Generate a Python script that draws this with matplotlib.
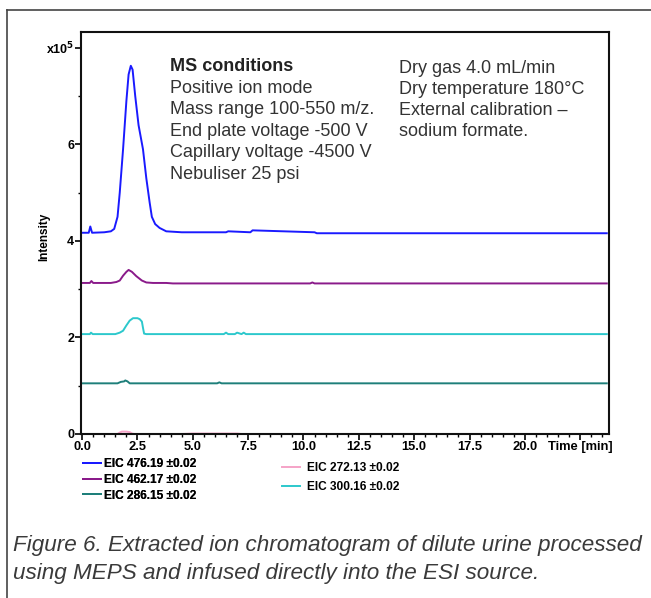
import matplotlib
matplotlib.use("Agg")
import matplotlib.pyplot as plt
from matplotlib.lines import Line2D

# retention time [min] / intensity [x10^5]
t_476 = [0.0, 0.3, 0.37, 0.45, 1.0, 1.3, 1.45, 1.6, 1.7, 1.85, 2.0, 2.1, 2.2, 2.28, 2.4,
         2.55, 2.75, 2.9, 3.05, 3.15, 3.3, 3.5, 3.8, 4.5, 6.5, 6.6, 7.6, 7.7, 10.5, 10.6, 23.7]
i_476 = [4.17, 4.17, 4.3, 4.17, 4.18, 4.2, 4.25, 4.5, 5.0, 5.9, 6.9, 7.45, 7.63, 7.55, 7.0,
         6.4, 5.9, 5.3, 4.8, 4.5, 4.35, 4.27, 4.2, 4.18, 4.18, 4.2, 4.18, 4.22, 4.18, 4.16, 4.16]

t_462 = [0.0, 0.35, 0.42, 0.5, 1.3, 1.55, 1.7, 1.85, 2.0, 2.1, 2.25, 2.45, 2.7, 2.9, 3.2,
         3.8, 4.1, 10.3, 10.4, 10.5, 23.7]
i_462 = [3.13, 3.13, 3.17, 3.13, 3.13, 3.15, 3.18, 3.28, 3.36, 3.40, 3.36, 3.27, 3.18, 3.14,
         3.13, 3.13, 3.12, 3.12, 3.14, 3.12, 3.12]

t_286 = [0.0, 1.6, 1.75, 1.9, 1.95, 2.05, 2.15, 2.3, 6.1, 6.2, 6.3, 23.7]
i_286 = [1.05, 1.05, 1.08, 1.09, 1.11, 1.09, 1.05, 1.05, 1.05, 1.07, 1.05, 1.05]

t_272 = [0.0, 1.6, 1.7, 1.8, 2.0, 2.15, 2.25, 2.35, 4.5, 5.0, 6.5, 7.0, 7.2, 23.7]
i_272 = [0.0, 0.0, 0.03, 0.05, 0.05, 0.04, 0.01, 0.0, 0.0, 0.01, 0.01, 0.01, 0.0, 0.0]

t_300 = [0.0, 0.35, 0.4, 0.48, 1.5, 1.7, 1.85, 2.0, 2.15, 2.3, 2.5, 2.6, 2.7, 2.75, 2.8,
         2.9, 6.4, 6.5, 6.6, 6.9, 7.0, 7.2, 7.3, 7.4, 23.7]
i_300 = [2.07, 2.07, 2.1, 2.07, 2.07, 2.1, 2.14, 2.25, 2.35, 2.40, 2.40, 2.38, 2.33, 2.2,
         2.08, 2.07, 2.07, 2.1, 2.07, 2.07, 2.1, 2.07, 2.1, 2.07, 2.07]

y_ticks = [0, 2, 4, 6, 8]
y_labels = ["0", "2", "4", "6", r"x10$^{\mathbf{5}}$"]
x_ticks = [0, 2.5, 5, 7.5, 10, 12.5, 15, 17.5, 20, 22.5]
x_labels = ["0.0", "2.5", "5.0", "7.5", "10.0", "12.5", "15.0", "17.5", "20.0", "Time [min]"]

conditions_1 = ["Positive ion mode", "Mass range 100-550 m/z.", "End plate voltage -500 V",
                "Capillary voltage -4500 V", "Nebuliser 25 psi"]
conditions_2 = ["Dry gas 4.0 mL/min", "Dry temperature 180°C", "External calibration –",
                "sodium formate."]

plt.rcParams['font.family'] = ['Liberation Sans', 'DejaVu Sans']

fig = plt.figure(figsize=(6.51, 5.98), dpi=100)
ax = fig.add_axes([81 / 651, 1 - 434 / 598, 528 / 651, 402 / 598])

l1, = ax.plot(t_476, i_476, color="#1a1aff", lw=1.4)
l2, = ax.plot(t_462, i_462, color="#8a1a8a", lw=1.4)
l3, = ax.plot(t_286, i_286, color="#1e7f7a", lw=1.4)
l4, = ax.plot(t_272, i_272, color="#f5a3c7", lw=1.4)
l5, = ax.plot(t_300, i_300, color="#2cc8cc", lw=1.4)

ax.set_xlim(-0.05, 23.8)
ax.set_ylim(0, 8.33)
ax.set_yticks(y_ticks)
ax.set_yticklabels(y_labels, fontweight="bold", fontsize=9)
ax.set_yticks([1, 3, 5, 7], minor=True)
ax.set_xticks(x_ticks)
ax.set_xticklabels(x_labels, fontweight="bold", fontsize=9.3)
ax.set_xticks([i * 0.5 for i in range(48) if i % 5 != 0], minor=True)
ax.tick_params(length=4, width=1.2, pad=1)
ax.tick_params(which="minor", length=2, width=1)
for s in ax.spines.values():
    s.set_linewidth(1.5)
    s.set_color("#111111")
ax.set_ylabel("Intensity", fontweight="bold", fontsize=8.5)
ax.yaxis.set_label_coords(-0.058, 0.49)

ax.text(0.168, 0.913, "MS conditions", transform=ax.transAxes, fontsize=13,
        fontweight="bold", color="#222222", va="center")
for k, s in enumerate(conditions_1):
    ax.text(0.168, 0.86 - k * 0.0535, s, transform=ax.transAxes, fontsize=13,
            color="#333333", va="center")
for k, s in enumerate(conditions_2):
    ax.text(0.602, 0.91 - k * 0.0525, s, transform=ax.transAxes, fontsize=13,
            color="#333333", va="center")

leg1 = fig.legend([l1, l2, l3], ["EIC 476.19 \u00b10.02", "EIC 462.17 \u00b10.02", "EIC 286.15 \u00b10.02"],
                  loc="upper left", bbox_to_anchor=(83 / 651, 1 - 458 / 598), frameon=False,
                  prop={"weight": "bold", "size": 8.6}, handlelength=1.5, handletextpad=0.3,
                  labelspacing=0.32, borderpad=0, borderaxespad=0)
leg2 = fig.legend([l4, l5], ["EIC 272.13 \u00b10.02", "EIC 300.16 \u00b10.02"],
                  loc="upper left", bbox_to_anchor=(282 / 651, 1 - 462 / 598), frameon=False,
                  prop={"weight": "bold", "size": 8.6}, handlelength=1.5, handletextpad=0.6,
                  labelspacing=0.6, borderpad=0, borderaxespad=0)
fig.add_artist(leg1)

fig.text(13 / 651, 1 - 546 / 598,
         "Figure 6. Extracted ion chromatogram of dilute urine processed",
         fontsize=16.2, style="italic", color="#3a3a3a", va="center", family="Liberation Sans")
fig.text(13 / 651, 1 - 574 / 598,
         "using MEPS and infused directly into the ESI source.",
         fontsize=16.2, style="italic", color="#3a3a3a", va="center", family="Liberation Sans")

# outer frame
fig.add_artist(Line2D([7 / 651, 1], [1 - 10 / 598, 1 - 10 / 598], color="#444444", lw=1.2))
fig.add_artist(Line2D([7 / 651, 7 / 651], [0, 1 - 10 / 598], color="#444444", lw=1.2))

fig.savefig("out.png", dpi=100)
